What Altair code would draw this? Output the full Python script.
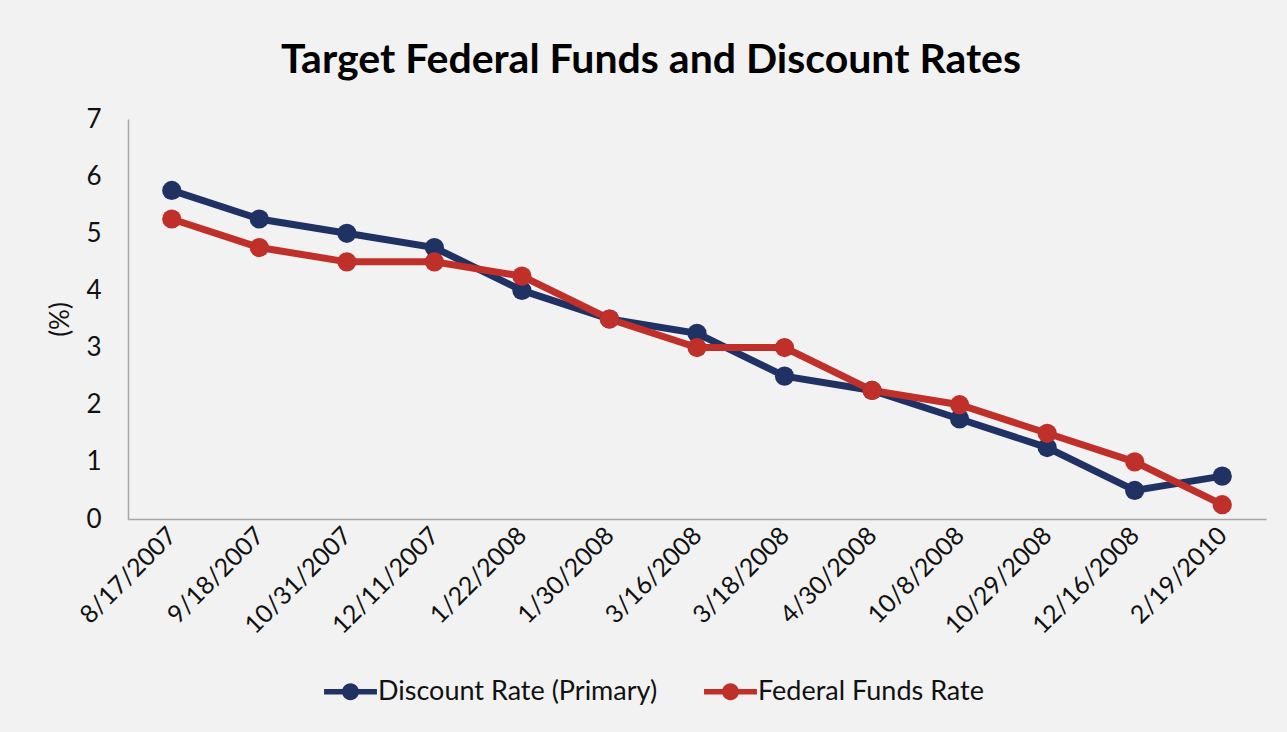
import altair as alt
import pandas as pd

dates = ["8/17/2007", "9/18/2007", "10/31/2007", "12/11/2007", "1/22/2008", "1/30/2008",
         "3/16/2008", "3/18/2008", "4/30/2008", "10/8/2008", "10/29/2008", "12/16/2008", "2/19/2010"]
discount_rate = [5.75, 5.25, 5.0, 4.75, 4.0, 3.5, 3.25, 2.5, 2.25, 1.75, 1.25, 0.5, 0.75]
fed_funds_rate = [5.25, 4.75, 4.5, 4.5, 4.25, 3.5, 3.0, 3.0, 2.25, 2.0, 1.5, 1.0, 0.25]
series_names = ["Discount Rate (Primary)", "Federal Funds Rate"]
series_colors = ["#203264", "#c0302a"]

rows = []
for name, vals in zip(series_names, [discount_rate, fed_funds_rate]):
    for d, v in zip(dates, vals):
        rows.append({"date": d, "rate": v, "series": name})
df = pd.DataFrame(rows)

FONT = "Lato"
symbol_path = ("M-1,-0.1 L1,-0.1 L1,0.1 L-1,0.1 Z "
               "M0.32,0 A0.32,0.32 0 1,1 -0.32,0 A0.32,0.32 0 1,1 0.32,0 Z")

x = alt.X("date:O", sort=dates, scale=alt.Scale(padding=0.5),
          axis=alt.Axis(title=None, labelAngle=-45, labelAlign="right", labelBaseline="middle",
                        labelFontSize=25, labelPadding=12, ticks=False, domainColor="#a6a6a6",
                        domainWidth=1.5, labelColor="#111111", labelFont=FONT, grid=False))
y = alt.Y("rate:Q", scale=alt.Scale(domain=[0, 7]),
          axis=alt.Axis(title="(%)", values=[0, 1, 2, 3, 4, 5, 6, 7], ticks=False, grid=False,
                        labelFontSize=26, labelPadding=27, domainColor="#a6a6a6", domainWidth=1.5,
                        labelColor="#111111", labelFont=FONT, titleFont=FONT, titleFontSize=26,
                        titleFontWeight="normal", titleColor="#111111", titlePadding=12))
color = alt.Color("series:N", sort=series_names,
                  scale=alt.Scale(domain=series_names, range=series_colors),
                  legend=alt.Legend(title=None, orient="none", direction="horizontal",
                                    legendX=196, legendY=546, symbolType=symbol_path,
                                    symbolSize=2800, symbolStrokeWidth=0, labelFont=FONT,
                                    labelFontSize=27, labelColor="#111111", labelOffset=1,
                                    labelLimit=0, columnPadding=46, symbolOpacity=1))

base = alt.Chart(df).encode(x=x, y=y, color=color)
lines = base.mark_line(strokeWidth=7)
points = base.mark_point(filled=True, size=370, opacity=1)

chart = alt.layer(lines, points).properties(
    width=1138, height=400,
    title=alt.TitleParams("Target Federal Funds and Discount Rates", font=FONT, fontSize=41,
                          fontWeight="bold", color="#000000", anchor="middle", dx=-46, offset=24),
    background="#f2f2f2",
    padding={"left": 128, "top": 119, "right": 21, "bottom": 213},
    autosize=alt.AutoSizeParams(type="none"),
).configure_view(stroke=None)

chart.save("out.html", embed_options={"renderer": "svg", "actions": False})
